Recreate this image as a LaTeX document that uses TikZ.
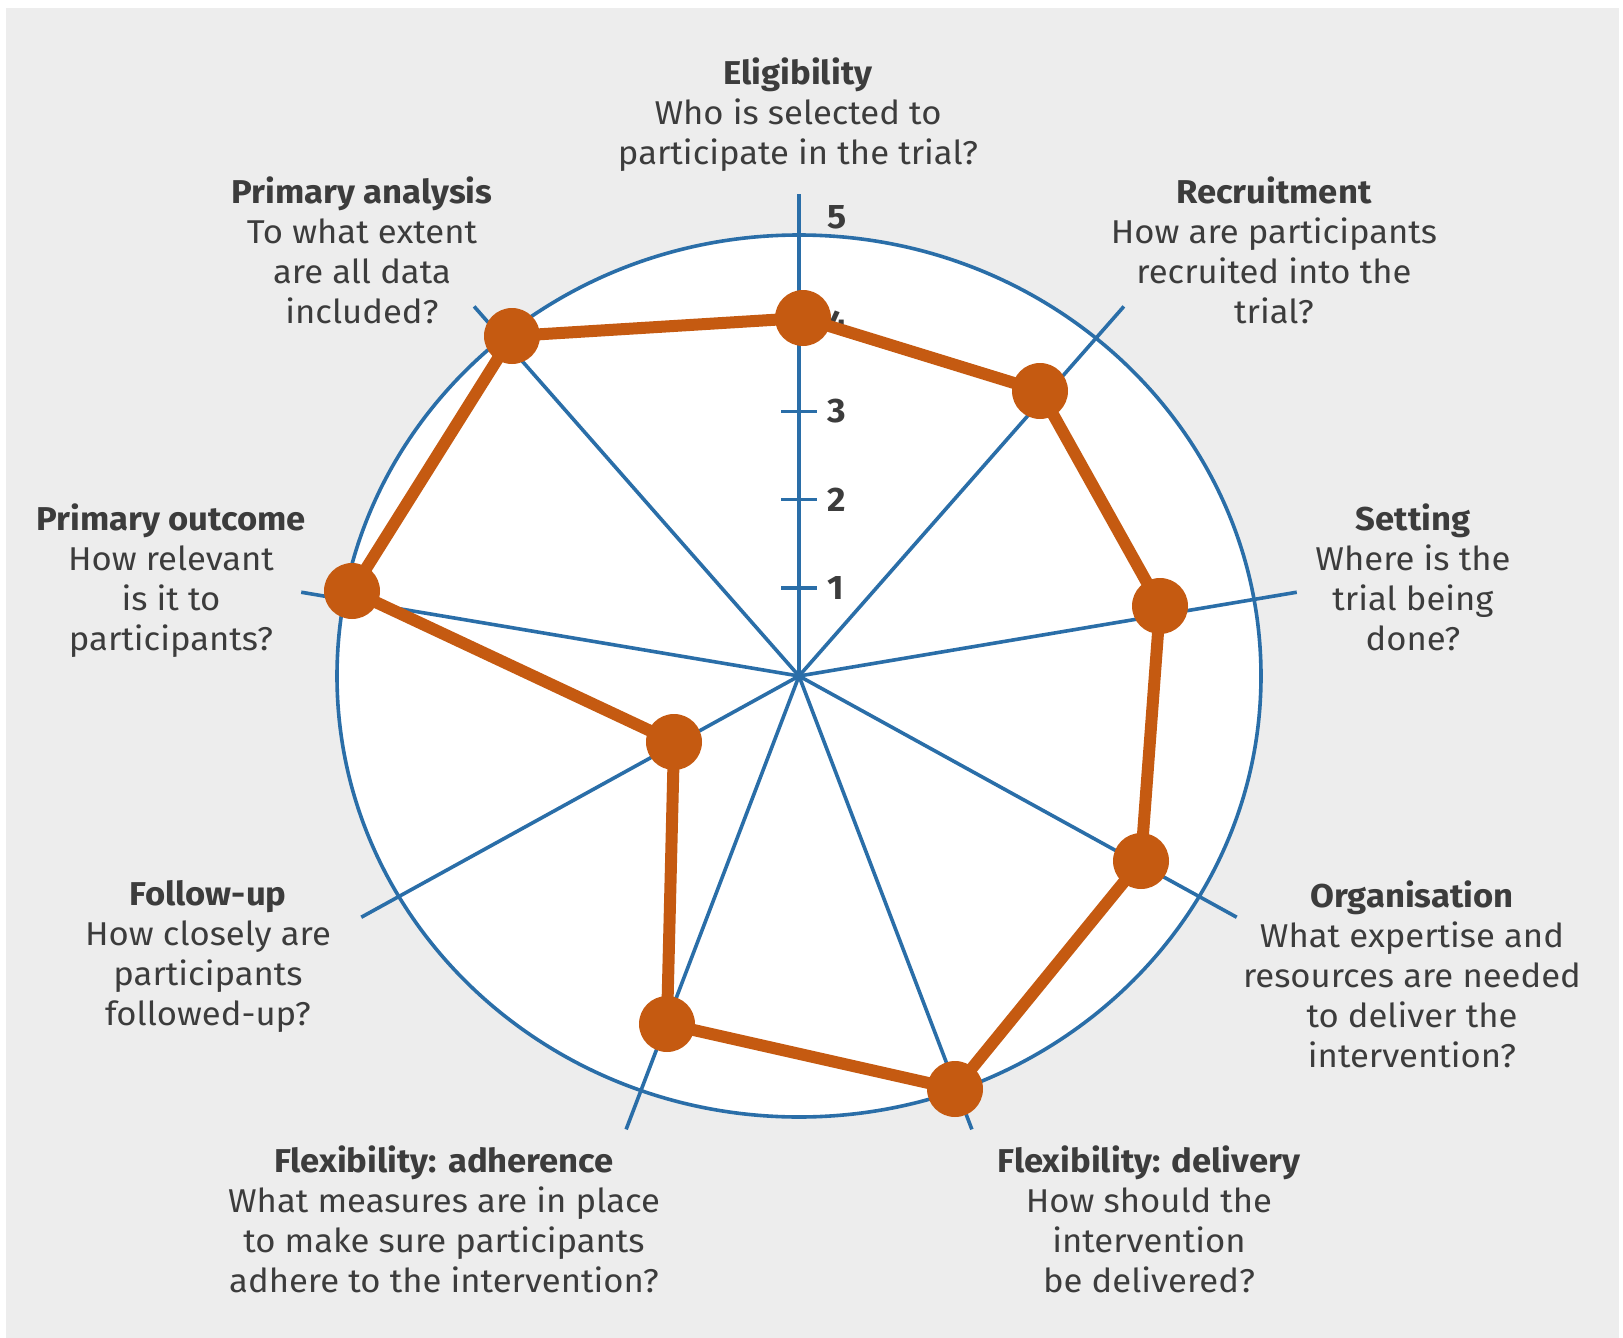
\documentclass[tikz,border=0pt]{standalone}
\usepackage{fontspec}
\setmainfont{Fira Sans}[FakeStretch=1.05]
\definecolor{bgray}{HTML}{EDEDED}
\definecolor{axisblue}{HTML}{2A6EA8}
\definecolor{dotorange}{HTML}{C55A11}
\definecolor{txtgray}{HTML}{3C3C3C}
\tikzset{
  blueline/.style={draw=axisblue, line width=1.8pt},
  polyline/.style={draw=dotorange, line width=6pt, line join=round},
  dot/.style={circle, fill=dotorange, minimum size=28pt, inner sep=0pt},
  lab/.style={align=center, anchor=north, inner sep=0pt, text=txtgray,
    font=\fontsize{16.5}{20}\selectfont},
  ticklab/.style={anchor=west, inner sep=0pt, text=txtgray,
    font=\bfseries\fontsize{17}{20}\selectfont},
}
\begin{document}
\begin{tikzpicture}[x=0.5pt, y=-0.5pt]
\useasboundingbox (0,0) rectangle (1623,1338);
\fill[white] (0,0) rectangle (1623,1338);
\fill[bgray] (6,8) rectangle (1619,1338);

\begin{scope}[shift={(799,676)}, x=46.2pt, y=44.1pt]
  \coordinate (c) at (0,0);
  \filldraw[blueline, fill=white] (c) ellipse [x radius=231pt, y radius=220.5pt];
  \foreach \a/\n in {90/s1,50/s2,10/s3,-30/s4,-70/s5,-110/s6,-150/s7,170/s8,130/s9}
    \coordinate (\n) at (\a:5.47);
  \foreach \n in {s1,s2,s3,s4,s5,s6,s7,s8,s9}
    \draw[blueline] (c) -- (\n);
  \foreach \r in {1,2,3,4}
    \draw[blueline] (-0.19,\r) -- (0.19,\r);
  \foreach \r in {1,2,3,4}
    \node[ticklab] (t\r) at (0.3,\r) {\r};
  \node[ticklab] (t5) at (0.3,5.2) {5};
\end{scope}

\coordinate (pe) at (803,318);
\coordinate (pr) at (1040,391);
\coordinate (ps) at (1160,606);
\coordinate (po) at (1141,861);
\coordinate (pd) at (955,1089);
\coordinate (pa) at (667,1024);
\coordinate (pf) at (674,742);
\coordinate (pp) at (352,591);
\coordinate (pn) at (512,336);
\draw[polyline] (pe) -- (pr) -- (ps) -- (po) -- (pd) -- (pa) -- (pf) -- (pp) -- (pn) -- cycle;
\foreach \n in {pe,pr,ps,po,pd,pa,pf,pp,pn}
  \node[dot] (d\n) at (\n) {};

\node[lab] (eligibility) at (798,57) {\textbf{Eligibility}\\Who is selected to\\participate in the trial?};
\node[lab] (recruitment) at (1274,176) {\textbf{Recruitment}\\How are participants\\recruited into the\\trial?};
\node[lab] (analysis) at (362,176) {\textbf{Primary analysis}\\To what extent\\are all data\\included?};
\node[lab] (setting) at (1413,503) {\textbf{Setting}\\Where is the\\trial being\\done?};
\node[lab] (outcome) at (171,503) {\textbf{Primary outcome}\\How relevant\\is it to\\participants?};
\node[lab] (organisation) at (1412,880) {\textbf{Organisation}\\What expertise and\\resources are needed\\to deliver the\\intervention?};
\node[lab] (followup) at (208,880) {\textbf{Follow-up}\\How closely are\\participants\\followed-up?};
\node[lab] (adherence) at (444,1145) {\textbf{Flexibility: adherence}\\What measures are in place\\to make sure participants\\adhere to the intervention?};
\node[lab] (delivery) at (1149,1145) {\textbf{Flexibility: delivery}\\How should the\\intervention\\be delivered?};
\end{tikzpicture}
\end{document}
